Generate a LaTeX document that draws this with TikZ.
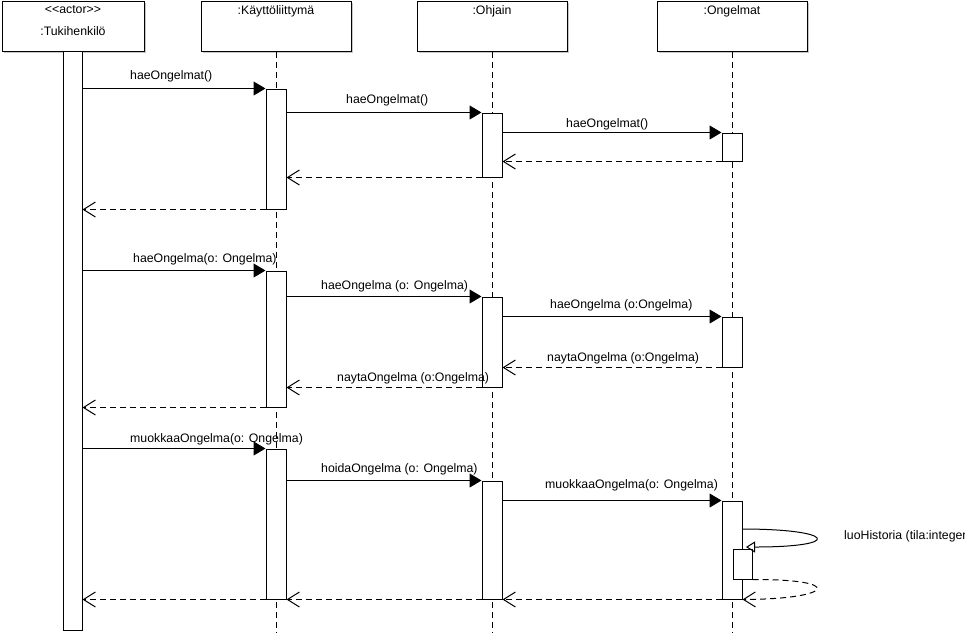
\documentclass[tikz,border=0pt]{standalone}
\usepackage{fontspec}
\setmainfont{Liberation Sans}
\usetikzlibrary{arrows.meta,shadows}
\begin{document}
\begin{tikzpicture}[x=1pt,y=-1pt, font=\fontsize{12.3}{14}\selectfont,
 hdr/.style={draw, fill=white, line width=1pt, minimum width=150pt, minimum height=50pt, inner sep=0pt,
   general shadow={fill=black!22, shadow xshift=2pt, shadow yshift=-2pt}},
 bar/.style={draw, fill=white, line width=1pt, minimum width=20pt, inner sep=0pt},
 life/.style={line width=1pt, dash pattern=on 6pt off 4pt},
 call/.style={line width=1pt, -{Triangle[length=12pt,width=14pt]}},
 ret/.style={line width=1pt, dash pattern=on 6pt off 4pt, -{Straight Barb[length=12pt,width=15pt]}},
 lbl/.style={inner sep=0pt, anchor=west},
 htxt/.style={inner sep=0pt}]
\useasboundingbox (0,0) rectangle (965,633);
% headers
\node[hdr, minimum width=142pt] (tuki) at (73,26) {};
\node[hdr] (kay) at (276,26) {};
\node[hdr] (ohj) at (492,26) {};
\node[hdr] (ong) at (732,26) {};
\node[htxt] (tukiS) at (73,10) {<\kern0pt<actor>\kern0pt>};
\node[htxt] (tukiN) at (73,31) {:Tukihenkilö};
\node[htxt] (kayN) at (276,11) {:Käyttöliittymä};
\node[htxt] (ohjN) at (492,11) {:Ohjain};
\node[htxt] (ongN) at (732,11) {:Ongelmat};
% lifelines
\coordinate (kayEnd) at (276,633);
\coordinate (ohjEnd) at (492,633);
\coordinate (ongEnd) at (732,633);
\draw[life] (kay.south) -- (kayEnd);
\draw[life] (ohj.south) -- (ohjEnd);
\draw[life] (ong.south) -- (ongEnd);
% activation bars
\node[bar, minimum width=19pt, minimum height=579pt] (act) at (72.5,340.5) {};
\node[bar, minimum height=120pt] (k1) at (276,149) {};
\node[bar, minimum height=64pt] (o1) at (492,145) {};
\node[bar, minimum height=28pt] (n1) at (732,147) {};
\node[bar, minimum height=136pt] (k2) at (276,339) {};
\node[bar, minimum height=90pt] (o2) at (492,342) {};
\node[bar, minimum height=50pt] (n2) at (732,342) {};
\node[bar, minimum height=150pt] (k3) at (276,524) {};
\node[bar, minimum height=118pt] (o3) at (492,540) {};
\node[bar, minimum height=98pt] (n3) at (732,550) {};
\node[bar, minimum width=19pt, minimum height=30pt] (n3b) at (742.5,564) {};
% section 1
\draw[call] (act.east |- k1.north) -- (k1.north west);
\draw[call] (k1.east |- o1.north) -- (o1.north west);
\draw[call] (o1.east |- n1.north) -- (n1.north west);
\draw[ret] (n1.south west) -- (o1.east |- n1.south);
\draw[ret] (o1.south west) -- (k1.east |- o1.south);
\draw[ret] (k1.south west) -- (act.east |- k1.south);
\node[lbl] (l1) at (130,76) {haeOngelmat()};
\node[lbl] (l2) at (346,100) {haeOngelmat()};
\node[lbl] (l3) at (566,124) {haeOngelmat()};
% section 2
\draw[call] (act.east |- k2.north) -- (k2.north west);
\draw[call] (k2.east |- o2.north) -- (o2.north west);
\draw[call] (o2.east |- n2.north) -- (n2.north west);
\draw[ret] (n2.south west) -- (o2.east |- n2.south);
\draw[ret] (o2.south west) -- (k2.east |- o2.south);
\draw[ret] (k2.south west) -- (act.east |- k2.south);
\node[lbl] (l4) at (133,259) {haeOngelma(o: Ongelma)};
\node[lbl] (l5) at (321,286) {haeOngelma (o: Ongelma)};
\node[lbl] (l6) at (550,305) {haeOngelma (o:Ongelma)};
\node[lbl] (l7) at (547,358) {naytaOngelma (o:Ongelma)};
\node[lbl] (l8) at (337,378) {naytaOngelma (o:Ongelma)};
% section 3
\draw[call] (act.east |- k3.north) -- (k3.north west);
\draw[call] (k3.east |- o3.north) -- (o3.north west);
\draw[call] (o3.east |- n3.north) -- (n3.north west);
\coordinate (s1) at (742,529);
\coordinate (s2) at (746,547);
\draw[line width=1pt, -{Triangle[open,length=9pt,width=11pt]}] (s1) .. controls (835,529) and (845,547) .. (s2);
\draw[ret] (n3b.south east) .. controls (845,579) and (835,599) .. (n3.south east);
\draw[ret] (n3.south west) -- (o3.south east);
\draw[ret] (o3.south west) -- (k3.south east);
\draw[ret] (k3.south west) -- (act.east |- k3.south);
\node[lbl] (l9) at (130,439) {muokkaaOngelma(o: Ongelma)};
\node[lbl] (l10) at (321,469) {hoidaOngelma (o: Ongelma)};
\node[lbl] (l11) at (545,485) {muokkaaOngelma(o: Ongelma)};
\node[lbl] (l12) at (844,536) {luoHistoria (tila:integer};
\end{tikzpicture}
\end{document}
